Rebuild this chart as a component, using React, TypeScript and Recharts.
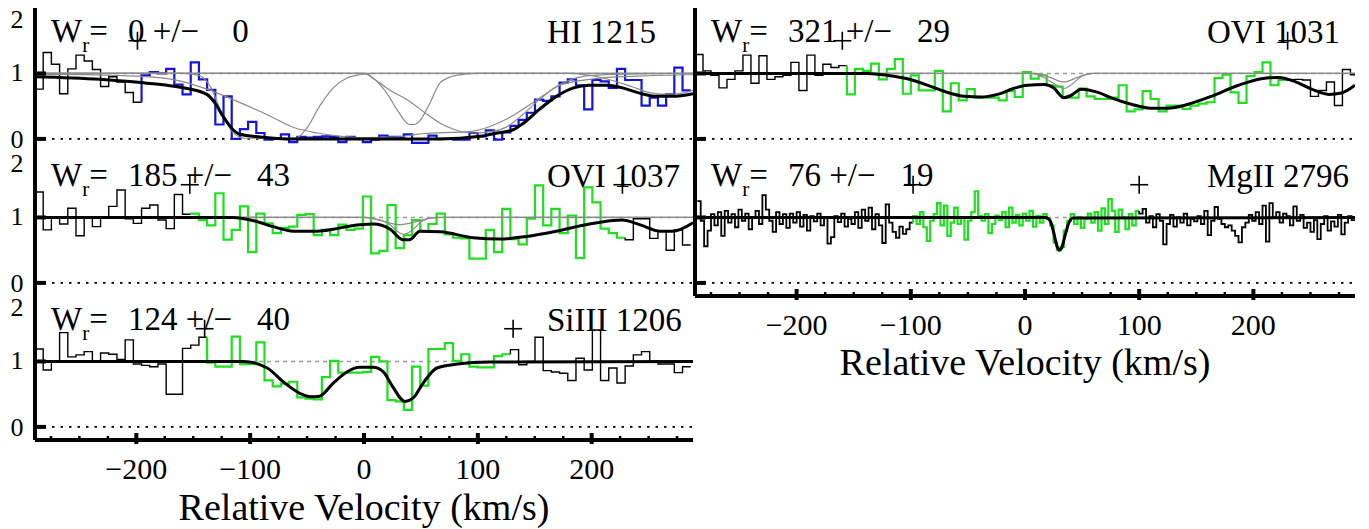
import React from 'react';
import { ComposedChart, Line, Scatter, XAxis, YAxis, ReferenceLine } from 'recharts';

const FONT = 'Liberation Serif, DejaVu Serif, serif';
const TXT = { fontFamily: FONT };
const V_DOMAIN: [number, number] = [-289, 289];
const F_DOMAIN: [number, number] = [-0.2, 2];
const xTicks = [-275, -250, -225, -200, -175, -150, -125, -100, -75, -50, -25, 0, 25, 50, 75, 100, 125, 150, 175, 200, 225, 250, 275];
const yTicks = [0, 1, 2];

// ---- HI 1215 ----
const hiStart = -289;
const hiStep = 7.2;
const hiFlux = [
  0.76, 1.32, 1.14, 0.69, 1.07, 1.28, 1.19, 1.06, 0.80, 0.95, 0.87, 0.71, 0.56,
  0.97, 1.02, 1.00, 1.07, 0.83, 0.68, 1.17, 0.91, 0.75, 0.22, 0.65, 0.00, 0.15, 0.26, 0.09, -0.01, 0.00,
  0.07, -0.05, 0.03, 0.02, 0.03, 0.04, 0.03, -0.05, 0.03, 0.01, -0.05, -0.01, 0.05, 0.03, 0.03, 0.07,
  -0.06, -0.06, 0.05, 0.00, 0.00, -0.01, -0.01, 0.09, 0.04, 0.13, -0.01, 0.10, 0.20, 0.29, 0.40, 0.60,
  0.58, 0.65, 0.86, 0.91, 0.82, 0.45, 0.90, 0.88, 0.78, 1.07, 0.90, 0.90, 0.51, 0.63, 0.51, 0.68, 1.09, 0.74,
];
const hiWindow = [13, 79];
const hiMarks = [-199];
const hiModel = [
  [-289, 0.95], [-232, 0.91], [-196, 0.86], [-173, 0.82], [-155, 0.77], [-138, 0.68], [-131, 0.55],
  [-124, 0.35], [-115, 0.14], [-109, 0.07], [-91, 0.03], [-68, 0.0], [67, 0.0], [102, 0.04], [117, 0.09],
  [131, 0.14], [140, 0.24], [154, 0.45], [169, 0.65], [184, 0.78], [198, 0.82], [213, 0.82], [227, 0.78],
  [242, 0.7], [257, 0.65], [271, 0.65], [289, 0.69],
];
const hiComp1 = [[-289, 1], [-160, 1], [-145, 0.97], [-135, 0.8], [-125, 0.4], [-115, 0.1], [-105, 0.01], [-60, 0.01], [-50, 0.17], [-39, 0.5], [-27, 0.78], [-15, 0.93], [-4, 0.98], [10, 1], [289, 1]];
const hiComp2 = [[-289, 0.99], [-200, 0.96], [-160, 0.88], [-138, 0.76], [-115, 0.6], [-85, 0.37], [-61, 0.17], [-41, 0.09], [-20, 0.04], [0, 0.02], [30, 0.03], [46, 0.07], [96, 0.12], [125, 0.3], [154, 0.62], [172, 0.82], [198, 0.91], [240, 0.96], [289, 0.98]];
const hiComp3 = [[-289, 1], [0, 1], [8, 0.93], [20, 0.7], [30, 0.42], [40, 0.22], [44, 0.22], [50, 0.3], [58, 0.55], [67, 0.86], [81, 0.97], [100, 1], [289, 1]];
const hiComp4 = [[-289, 1], [0, 1], [10, 0.9], [25, 0.72], [38, 0.6], [55, 0.38], [67, 0.24], [80, 0.14], [96, 0.09], [112, 0.11], [125, 0.18], [140, 0.38], [154, 0.6], [169, 0.8], [184, 0.92], [200, 0.97], [230, 0.99], [289, 1]];
const hiComp5 = [[-289, 1], [180, 1], [210, 0.93], [235, 0.8], [250, 0.71], [265, 0.68], [280, 0.7], [289, 0.74]];

// ---- OVI 1037 ----
const o7Start = -289;
const o7Step = 7.2;
const o7Flux = [
  1.39, 0.81, 1.01, 0.90, 1.14, 0.72, 0.99, 0.86, 1.00, 1.17, 1.42, 0.98, 0.91, 1.14, 1.19, 0.96, 0.83, 1.35, 1.05,
  1.06, 0.96, 0.88, 1.37, 0.66, 0.81, 1.17, 0.47, 1.06, 0.91, 0.76, 0.84, 0.86, 1.04, 1.05, 0.73, 0.81, 0.73, 0.89,
  0.81, 0.83, 1.32, 0.45, 0.49, 1.19, 0.53, 0.73, 0.96, 0.79, 0.90, 1.06, 0.74, 0.69, 0.68, 0.37, 0.37, 0.81, 0.47,
  1.13, 0.67, 0.59, 0.98, 1.49, 0.88, 1.13, 0.76, 1.03, 0.38, 1.46, 1.23, 0.83, 0.76, 0.69,
  0.66, 0.98, 0.98, 0.68, 0.79, 0.50, 0.81, 0.58,
];
const o7Window = [19, 71];
const o7Marks = [-153, 227];
const o7Model = [
  [-289, 1.0], [-115, 1.0], [-97, 0.95], [-80, 0.86], [-62, 0.79], [-41, 0.79], [-27, 0.82], [-12, 0.87],
  [8, 0.9], [23, 0.82], [34, 0.66], [40, 0.66], [49, 0.79], [67, 0.78], [96, 0.69], [119, 0.67], [143, 0.71],
  [169, 0.79], [198, 0.9], [227, 0.96], [242, 0.89], [260, 0.79], [271, 0.79], [289, 0.92],
];
const o7Comp1 = [[-289, 1], [0, 1], [10, 0.98], [22, 0.9], [30, 0.78], [35, 0.74], [42, 0.8], [50, 0.93], [58, 0.99], [70, 1], [289, 1]];
const o7Comp2 = [[-289, 1], [0, 1], [15, 0.95], [31, 0.89], [47, 0.94], [63, 1], [289, 1]];

// ---- SiIII 1206 ----
const siStart = -289;
const siStep = 7.2;
const siFlux = [
  1.19, 0.87, 1.00, 1.44, 1.07, 1.10, 1.15, 1.01, 1.13, 1.11, 1.03, 1.33, 0.96, 0.94, 0.92, 0.96, 0.50, 0.50, 1.20, 1.25, 1.37,
  0.98, 0.92, 0.92, 1.38, 0.96, 0.96, 1.29, 0.71, 0.62, 0.66, 0.69, 0.45, 0.43, 0.42, 0.76, 1.01, 0.83, 0.83, 0.83,
  0.84, 1.07, 1.00, 0.41, 0.39, 0.26, 0.92, 0.63, 1.19, 1.19, 1.28, 1.01, 1.11, 0.92, 0.91, 0.91, 1.08, 1.11,
  1.18, 0.95, 1.00, 1.37, 0.86, 0.84, 0.82, 0.71, 1.05, 0.87, 1.48, 0.71, 0.90, 0.67, 0.93, 1.10, 1.15, 1.00, 0.96, 0.96, 0.83, 0.92,
];
const siWindow = [21, 57];
const siMarks = [-140, 131];
const siModel = [
  [-289, 1.0], [-106, 1.0], [-85, 0.9], [-71, 0.69], [-56, 0.51], [-47, 0.46], [-39, 0.47], [-27, 0.67],
  [-15, 0.84], [-4, 0.91], [8, 0.91], [17, 0.84], [25, 0.62], [36, 0.39], [43, 0.44], [52, 0.67], [64, 0.9],
  [82, 0.96], [110, 0.99], [289, 1.0],
];

// ---- OVI 1031 ----
const o1Start = -289;
const o1Step = 7.0;
const o1Flux = [
  1.29, 1.04, 0.97, 0.78, 0.91, 1.04, 1.28, 0.85, 1.27, 0.91, 0.95, 0.97, 1.17, 0.74, 1.28, 0.97, 1.14, 1.09, 1.12,
  0.68, 1.07, 1.04, 1.15, 0.91, 1.07, 1.22, 0.69, 0.97, 0.74, 0.74, 1.04, 0.42, 0.85, 0.59, 0.76, 0.63, 0.63, 0.63,
  0.59, 0.73, 0.64, 1.02, 0.92, 0.97, 0.82, 0.80, 0.63, 0.63, 0.77, 0.65, 0.61, 0.61, 0.63, 0.82, 0.42, 0.45, 0.73,
  0.61, 0.42, 0.51, 0.51, 0.46, 0.51, 0.54, 0.56, 0.93, 0.98, 0.71, 0.55, 0.96, 1.02, 1.17, 0.82, 0.90,
  0.90, 0.91, 0.90, 0.65, 0.74, 0.87, 0.51, 1.06, 0.98,
];
const o1Window = [19, 73];
const o1Marks = [-160, 230];
const o1Model = [
  [-289, 1.0], [-138, 1.0], [-120, 0.97], [-103, 0.92], [-82, 0.8], [-68, 0.71], [-53, 0.65], [-39, 0.64],
  [-24, 0.68], [-10, 0.77], [2, 0.82], [17, 0.83], [25, 0.78], [34, 0.63], [40, 0.66], [49, 0.76], [64, 0.71],
  [75, 0.63], [93, 0.53], [110, 0.47], [125, 0.47], [143, 0.53], [163, 0.65], [187, 0.82], [207, 0.92],
  [222, 0.94], [236, 0.88], [251, 0.76], [266, 0.68], [277, 0.7], [289, 0.82],
];
const o1Comp1 = [[-289, 1], [5, 1], [15, 0.95], [28, 0.82], [34, 0.77], [40, 0.82], [50, 0.96], [60, 1], [289, 1]];
const o1Comp2 = [[-289, 1], [10, 1], [22, 0.94], [34, 0.87], [46, 0.94], [58, 1], [289, 1]];

// ---- MgII 2796 ----
const mgStart = -287;
const mgStep = 3.0;
const mgFlux = [
  1.25, 0.95, 0.56, 0.80, 1.05, 0.88, 1.08, 0.72, 1.10, 0.92, 1.05, 0.85, 1.12, 0.95, 1.06, 0.82, 1.00, 1.10, 0.90, 1.34,
  1.12, 0.95, 0.78, 1.08, 0.90, 1.05, 0.84, 1.06, 0.92, 1.08, 0.86, 1.04, 0.80, 1.02, 0.94, 1.06, 0.88, 1.00, 0.60, 0.70,
  1.02, 0.93, 1.06, 0.86, 0.98, 0.90, 1.08, 0.84, 1.12, 0.95, 1.15, 0.82, 1.05, 0.88, 0.61, 1.20, 0.92, 0.78, 0.69, 0.86,
  0.75, 0.82, 0.92,
  1.02, 0.90, 1.08, 0.85, 0.64, 0.95, 1.05, 1.22, 0.88, 1.18, 0.72, 0.92, 1.15, 0.90, 1.00, 0.66, 0.95, 1.08, 1.40, 1.02,
  0.95, 1.05, 0.76, 0.90, 1.03, 0.96, 1.08, 0.85, 1.15, 0.92, 1.04, 0.88, 1.06, 0.95, 1.10, 0.86, 1.02, 0.92, 1.05, 0.98,
  0.88, 0.62, 0.50, 0.55, 0.80, 0.95, 1.05, 0.90, 1.00, 0.84, 0.98, 1.06, 0.92, 1.08, 0.80, 1.14, 0.90, 1.28, 1.10, 0.78,
  1.12, 1.00, 0.82, 1.05, 0.88, 1.10,
  1.06, 1.13, 0.92, 1.02, 0.85, 1.05, 0.95, 0.59, 0.90, 1.04, 0.86, 1.00, 0.92, 1.06, 0.88, 0.98, 0.94, 1.02, 0.90, 1.10,
  0.73, 0.95, 1.16, 0.98, 0.90, 0.85, 0.88, 0.80, 0.72, 0.62, 0.85, 0.92, 1.04, 0.95, 1.08, 0.90, 1.18, 0.63, 1.22, 1.00,
  1.08, 0.92, 1.06, 1.02, 0.88, 1.17, 0.95, 1.04, 0.84, 0.92, 0.78, 0.96, 0.67, 0.90, 1.02, 0.80, 0.94, 0.86, 1.04, 0.74,
  0.92, 1.02, 0.96,
];
const mgWindow = [63, 128];
const mgMarks = [-98, 100];
const mgModel = [[-289, 1], [18, 1], [22, 0.95], [25, 0.78], [28, 0.56], [30, 0.5], [32, 0.53], [35, 0.72], [38, 0.9], [42, 0.99], [289, 1]];

type Pt = { v: number; f: number };

const steps = (start: number, step: number, flux: number[], from: number, to: number): Pt[] => {
  const pts: Pt[] = [];
  if (from > 0) pts.push({ v: start + from * step, f: flux[from - 1] });
  for (let i = from; i <= to && i < flux.length; i++) {
    pts.push({ v: start + i * step, f: flux[i] });
    pts.push({ v: start + (i + 1) * step, f: flux[i] });
  }
  return pts;
};
const toPts = (pairs: number[][]): Pt[] => pairs.map(([v, f]) => ({ v, f }));

const bottomTick = (labels: boolean) => (p: any) => {
  const v = p.payload.value;
  const major = v % 100 === 0;
  return (
    <g>
      <line x1={p.x} x2={p.x} y1={p.y - (major ? 7 : 4)} y2={p.y + (major ? 4 : 2)} stroke="#000" strokeWidth={major ? 4 : 2.5} />
      {labels && major && (
        <text x={p.x} y={p.y + 39} textAnchor="middle" fontSize={30} style={TXT} fill="#000">
          {v < 0 ? '\u2212' + -v : String(v)}
        </text>
      )}
    </g>
  );
};
const topTick = (p: any) => {
  const major = p.payload.value % 100 === 0;
  return <line x1={p.x} x2={p.x} y1={p.y - (major ? 4 : 2)} y2={p.y + (major ? 7 : 4)} stroke="#000" strokeWidth={major ? 4 : 2.5} />;
};
const leftTick = (labels: boolean) => (p: any) => {
  const v = p.payload.value;
  const dy = v === 2 ? 20 : v === 1 ? 8 : 9;
  return (
    <g>
      {v < 2 && <line x1={p.x - 2} x2={p.x + 11} y1={p.y} y2={p.y} stroke="#000" strokeWidth={4} />}
      {labels && (
        <text x={p.x - 18} y={p.y + dy} textAnchor="middle" fontSize={26} style={TXT} fill="#000">{v}</text>
      )}
    </g>
  );
};
const rightTick = (p: any) =>
  p.payload.value < 2 ? <line x1={p.x + 2} x2={p.x - 10} y1={p.y} y2={p.y} stroke="#000" strokeWidth={4} /> : <g />;

const Plus = (p: any) => (
  <g>
    <line x1={p.cx - 9} x2={p.cx + 9} y1={p.cy} y2={p.cy} stroke="#000" strokeWidth={1.6} />
    <line x1={p.cx} x2={p.cx} y1={p.cy - 9} y2={p.cy + 9} stroke="#000" strokeWidth={1.6} />
  </g>
);

interface PanelProps {
  left: number;
  top: number;
  rightMargin: number;
  yLabels: boolean;
  xLabels: boolean;
  start: number;
  step: number;
  flux: number[];
  win: number[];
  color: string;
  model: number[][];
  comps: number[][][];
  marks: number[];
  histWidth?: number;
}

const PANEL_H = 144;
const XLAB_H = 100;
const AX = { stroke: '#000', strokeWidth: 4 };

const Panel = ({ left, top, rightMargin, yLabels, xLabels, start, step, flux, win, color, model, comps, marks, histWidth = 1.4 }: PanelProps) => {
  const h = PANEL_H + (xLabels ? XLAB_H : 0);
  const blackL = steps(start, step, flux, 0, win[0] - 1);
  const colored = steps(start, step, flux, win[0], win[1]);
  const blackR = win[1] + 1 < flux.length ? steps(start, step, flux, win[1] + 1, flux.length - 1) : [];
  const markPts = marks.map((v) => ({ v, f: 1.5 }));
  const common = { xAxisId: 'b', yAxisId: 'l', dataKey: 'f', dot: false, activeDot: false, isAnimationActive: false } as const;
  return (
    <div style={{ position: 'absolute', left, top, width: 700, height: h }}>
      <ComposedChart width={700} height={h} margin={{ top: 0, right: rightMargin, bottom: 0, left: 0 }} style={{ overflow: 'visible' }}>
        <XAxis xAxisId="b" type="number" dataKey="v" domain={V_DOMAIN} allowDataOverflow ticks={xTicks} interval={0}
          tickSize={0} tickMargin={0} height={xLabels ? XLAB_H : 0} axisLine={AX} tickLine={false} tick={bottomTick(xLabels)} />
        <XAxis xAxisId="t" orientation="top" type="number" dataKey="v" domain={V_DOMAIN} allowDataOverflow ticks={xTicks} interval={0}
          tickSize={0} tickMargin={0} height={0} axisLine={AX} tickLine={false} tick={topTick} />
        <YAxis yAxisId="l" type="number" domain={F_DOMAIN} allowDataOverflow ticks={yTicks} interval={0}
          tickSize={0} tickMargin={0} width={35} axisLine={AX} tickLine={false} tick={leftTick(yLabels)} />
        <YAxis yAxisId="r" orientation="right" type="number" domain={F_DOMAIN} allowDataOverflow ticks={yTicks} interval={0}
          tickSize={0} tickMargin={0} width={0} axisLine={AX} tickLine={false} tick={rightTick} />
        <ReferenceLine xAxisId="b" yAxisId="l" y={1} stroke="#9a9a9a" strokeWidth={1.5} strokeDasharray="4 4" />
        <ReferenceLine xAxisId="b" yAxisId="l" y={0} stroke="#000" strokeWidth={1.6} strokeDasharray="2.5 6" />
        <Line {...common} data={blackL} type="linear" stroke="#000" strokeWidth={histWidth} />
        <Line {...common} data={colored} type="linear" stroke={color} strokeWidth={2.2} />
        {blackR.length > 0 && <Line {...common} data={blackR} type="linear" stroke="#000" strokeWidth={histWidth} />}
        {comps.map((c, i) => (
          <Line key={i} {...common} data={toPts(c)} type="monotone" stroke="#8a8a8a" strokeWidth={1.2} />
        ))}
        <Line {...common} data={toPts(model)} type="monotone" stroke="#000" strokeWidth={3} />
        <Scatter xAxisId="b" yAxisId="l" data={markPts} dataKey="f" shape={Plus} isAnimationActive={false} />
      </ComposedChart>
    </div>
  );
};

const WrLabel = ({ x, y, wr, err, name }: { x: number; y: number; wr: number; err: number; name: string }) => (
  <g fill="#000">
    <text x={x + 16} y={y + 34} fontSize={33} style={TXT}>
      W<tspan fontSize={21} dy={10}>r</tspan>
      <tspan dy={-10}>=</tspan>
    </text>
    <text x={x + 93} y={y + 34} fontSize={33} style={{ ...TXT, whiteSpace: 'pre' }}>
      {`${wr} +/\u2212 ${String(err).padStart(4, ' ')}`}
    </text>
    <text x={x + 512} y={y + 35} fontSize={33} style={TXT}>{name}</text>
  </g>
);

export default function App() {
  return (
    <div style={{ position: 'absolute', left: 0, top: 0, width: 1369, height: 529, background: '#fff', overflow: 'hidden', fontFamily: FONT }}>
      <Panel left={0} top={8} rightMargin={7} yLabels xLabels={false} start={hiStart} step={hiStep} flux={hiFlux}
        win={hiWindow} color="#1414dc" model={hiModel} comps={[hiComp1, hiComp2, hiComp3, hiComp4, hiComp5]} marks={hiMarks} />
      <Panel left={0} top={152} rightMargin={7} yLabels xLabels={false} start={o7Start} step={o7Step} flux={o7Flux}
        win={o7Window} color="#1ee01e" model={o7Model} comps={[o7Comp1, o7Comp2]} marks={o7Marks} />
      <Panel left={0} top={296} rightMargin={7} yLabels xLabels start={siStart} step={siStep} flux={siFlux}
        win={siWindow} color="#1ee01e" model={siModel} comps={[]} marks={siMarks} />
      <Panel left={660} top={8} rightMargin={5} yLabels={false} xLabels={false} start={o1Start} step={o1Step} flux={o1Flux}
        win={o1Window} color="#1ee01e" model={o1Model} comps={[o1Comp1, o1Comp2]} marks={o1Marks} />
      <Panel left={660} top={152} rightMargin={5} yLabels={false} xLabels start={mgStart} step={mgStep} flux={mgFlux}
        win={mgWindow} color="#1ee01e" model={mgModel} comps={[]} marks={mgMarks} histWidth={1.8} />
      <svg width={1369} height={529} style={{ position: 'absolute', left: 0, top: 0, pointerEvents: 'none' }}>
        <WrLabel x={35} y={8} wr={0} err={0} name="HI 1215" />
        <WrLabel x={35} y={152} wr={185} err={43} name="OVI 1037" />
        <WrLabel x={35} y={296} wr={124} err={40} name="SiIII 1206" />
        <WrLabel x={695} y={8} wr={321} err={29} name="OVI 1031" />
        <WrLabel x={695} y={152} wr={76} err={19} name="MgII 2796" />
        <text x={364} y={520} textAnchor="middle" fontSize={38} style={TXT}>Relative Velocity (km/s)</text>
        <text x={1025} y={375} textAnchor="middle" fontSize={38} style={TXT}>Relative Velocity (km/s)</text>
      </svg>
    </div>
  );
}
